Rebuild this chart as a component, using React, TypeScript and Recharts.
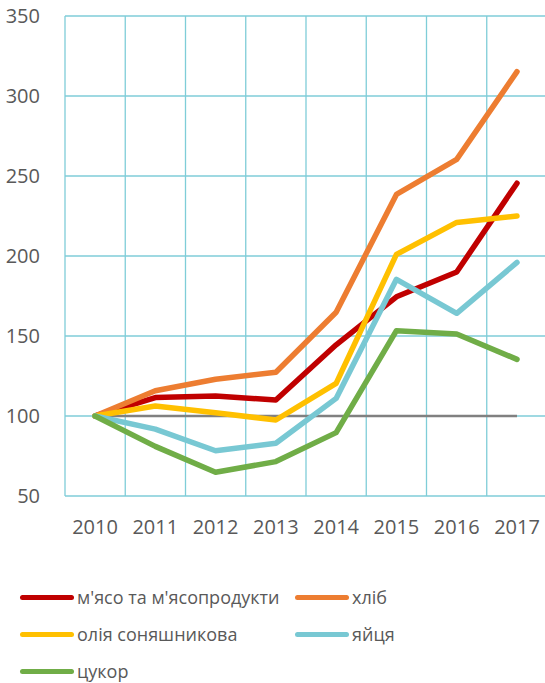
import { LineChart, Line, XAxis, YAxis, CartesianGrid } from 'recharts'

document.body.style.margin = '0'

const years = ['2010', '2011', '2012', '2013', '2014', '2015', '2016', '2017']
const myaso = [100, 111.5, 112.5, 110, 144.5, 174.5, 190, 245.5]
const khlib = [100, 115.8, 123, 127.3, 164.8, 238.5, 260.4, 315.2]
const oliya = [100, 106.3, 102, 97.5, 120.4, 201, 221, 225]
const yaytsya = [100, 91.8, 78.3, 83, 111, 185.4, 164.2, 196]
const tsukor = [100, 81, 64.8, 71.5, 89.6, 153.3, 151.3, 135.4]
const base = [100, 100, 100, 100, 100, 100, 100, 100]
const yTicks = [50, 100, 150, 200, 250, 300, 350]

const series = [
  { key: 'myaso', name: "м'ясо та м'ясопродукти", color: '#C00000', values: myaso },
  { key: 'khlib', name: 'хліб', color: '#ED7D31', values: khlib },
  { key: 'oliya', name: 'олія соняшникова', color: '#FFC000', values: oliya },
  { key: 'yaytsya', name: 'яйця', color: '#78C8D3', values: yaytsya },
  { key: 'tsukor', name: 'цукор', color: '#70AD47', values: tsukor },
]

const data = years.map((y, i) => {
  const row: Record<string, number | string> = { year: y, base: base[i] }
  series.forEach((s) => (row[s.key] = s.values[i]))
  return row
})

const font = '"Open Sans", sans-serif'

// vertical grid lines sit on the category band edges, not on the ticks
const bandEdges = ({ offset }: any) =>
  years.concat('').map((_, i) => offset.left + (i * offset.width) / years.length)

function LegendBlock() {
  return (
    <div
      style={{
        position: 'absolute',
        left: 20,
        top: 584,
        display: 'grid',
        gridTemplateColumns: '275px 200px',
        rowGap: 11,
        fontFamily: font,
        fontSize: 18,
        lineHeight: '24px',
        color: '#595959',
      }}
    >
      {series.map((s) => (
        <div key={s.key} style={{ display: 'flex', alignItems: 'center', height: 26 }}>
          <span
            style={{ width: 54, height: 5, borderRadius: 3, background: s.color, marginRight: 3, display: 'inline-block' }}
          />
          <span>{s.name}</span>
        </div>
      ))}
    </div>
  )
}

export default function App() {
  return (
    <div style={{ position: 'relative', width: 545, height: 683, overflow: 'hidden', background: '#fff' }}>
      <LineChart width={547} height={683} data={data} margin={{ top: 16, right: 0, bottom: 147, left: 0 }}>
        <CartesianGrid stroke="#7FCDD8" strokeWidth={1.3} verticalCoordinatesGenerator={bandEdges} />
        <XAxis
          dataKey="year"
          padding={{ left: 30, right: 30 }}
          axisLine={false}
          tickLine={false}
          height={40}
          tick={{ fontSize: 20, fill: '#595959', fontFamily: font }}
          dy={16}
        />
        <YAxis
          domain={[50, 350]}
          ticks={yTicks}
          width={65}
          axisLine={false}
          tickLine={false}
          tickMargin={19}
          tick={{ fontSize: 20, fill: '#595959', fontFamily: font }}
        />
        <Line dataKey="base" stroke="#808080" strokeWidth={2.5} dot={false} isAnimationActive={false} />
        {series.map((s) => (
          <Line
            key={s.key}
            dataKey={s.key}
            name={s.name}
            stroke={s.color}
            strokeWidth={5.5}
            strokeLinecap="round"
            strokeLinejoin="round"
            dot={false}
            isAnimationActive={false}
          />
        ))}
      </LineChart>
      <LegendBlock />
    </div>
  )
}
